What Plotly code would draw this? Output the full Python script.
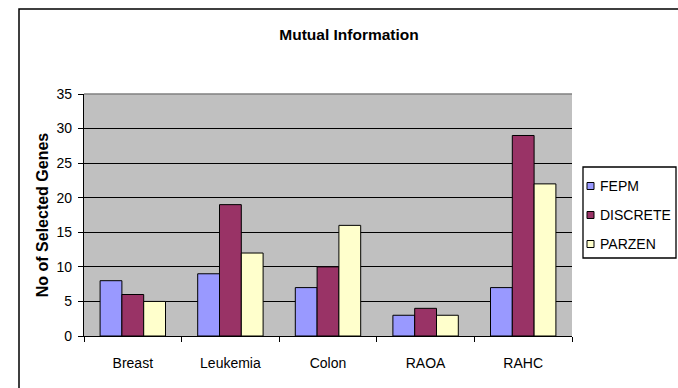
import plotly.graph_objects as go

# Number of selected genes per dataset for each mutual-information estimator
categories = ["Breast", "Leukemia", "Colon", "RAOA", "RAHC"]
fepm = [8, 9, 7, 3, 7]
discrete = [6, 19, 10, 4, 29]
parzen = [5, 12, 16, 3, 22]

series = [
    ("FEPM", fepm, "#9999FF"),
    ("DISCRETE", discrete, "#993366"),
    ("PARZEN", parzen, "#FFFFCC"),
]

FONT = "Liberation Sans, Arial, sans-serif"
W, H = 678, 388
L, R, T, B = 84, 106, 94, 52  # plot-area margins in px

fig = go.Figure()
for name, vals, color in series:
    fig.add_trace(go.Bar(
        x=categories, y=vals, name=name,
        marker=dict(color=color, line=dict(color="black", width=1)),
        showlegend=False,
    ))

fig.update_layout(
    width=W, height=H,
    margin=dict(l=L, r=R, t=T, b=B, autoexpand=False),
    paper_bgcolor="white",
    plot_bgcolor="#C0C0C0",
    barmode="group",
    bargap=0.33,
    bargroupgap=0,
    font=dict(family=FONT, size=14, color="black"),
    title=dict(
        text="<b>Mutual Information</b>",
        x=349 / W, xanchor="center",
        y=1 - 35 / H, yanchor="middle", yref="container",
        font=dict(family=FONT, size=15.5, color="black"),
    ),
)

fig.update_yaxes(
    range=[0, 35], dtick=5, tick0=0,
    showgrid=True, gridcolor="black", gridwidth=1.3,
    showline=True, linecolor="black", linewidth=1.3,
    ticks="outside", ticklen=5, tickcolor="black",
    ticklabelstandoff=3,
    zeroline=False,
    title=dict(text="<b>No of Selected Genes</b>", standoff=3,
               font=dict(family=FONT, size=16, color="black")),
)
fig.update_xaxes(
    showline=True, linecolor="black", linewidth=1.3,
    ticks="outside", tickson="boundaries", ticklen=5, tickcolor="black",
    ticklabelstandoff=14,
)

# Gray top edge of the plotting area
fig.add_shape(type="line", xref="paper", yref="paper",
              x0=0, x1=1, y0=1, y1=1, line=dict(color="#808080", width=1.5))

# Outer chart frame (left and top edges visible)
pw, ph = W - L - R, H - T - B
fig.add_shape(type="rect", xref="paper", yref="paper",
              x0=(19 - L) / pw, x1=1.6, y0=-0.6, y1=(H - B - 9) / ph,
              line=dict(color="black", width=1.5), fillcolor="rgba(0,0,0,0)",
              layer="below")

# Legend box with small square swatches
def px_x(x):
    return (x - L) / pw

def px_y(y):
    return (H - B - y) / ph

fig.add_shape(type="rect", xref="paper", yref="paper",
              x0=px_x(583), x1=px_x(676), y0=px_y(258), y1=px_y(167),
              line=dict(color="black", width=1.3), fillcolor="white")
for i, (name, _, color) in enumerate(series):
    yc = 186 + i * 29
    fig.add_shape(type="rect", xref="paper", yref="paper",
                  x0=px_x(587), x1=px_x(594), y0=px_y(yc + 3.5), y1=px_y(yc - 3.5),
                  line=dict(color="black", width=1), fillcolor=color)
    fig.add_annotation(xref="paper", yref="paper", x=px_x(598), y=px_y(yc),
                       xanchor="left", yanchor="middle", showarrow=False,
                       text=name, font=dict(family=FONT, size=14, color="black"))

fig.write_html("out.html")
